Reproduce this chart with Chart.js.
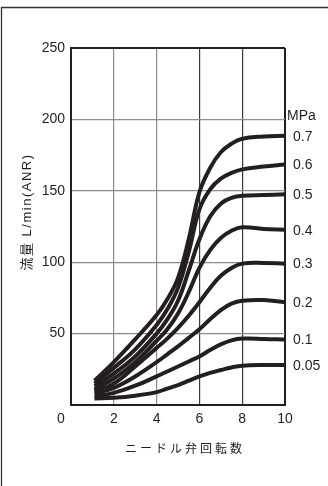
<!DOCTYPE html>
<html>
<head>
<meta charset="utf-8">
<script src="https://cdn.jsdelivr.net/npm/chart.js@4.4.1/dist/chart.umd.min.js"></script>
<style>
  html, body { margin: 0; padding: 0; background: #ffffff; }
  #wrap { position: relative; width: 328px; height: 486px; }
  canvas { display: block; }
</style>
</head>
<body>
<div id="wrap"><canvas id="c" width="328" height="486"></canvas></div>
<script>
// ---- data ----
const pressureLabels = ['0.7', '0.6', '0.5', '0.4', '0.3', '0.2', '0.1', '0.05'];
const turns = [1.1, 2, 3, 4, 4.5, 5, 5.5, 6, 6.5, 7, 7.5, 8, 9, 10];
const flow07  = [17, 30, 46, 63, 74, 89, 116, 149, 166, 177, 183, 186.5, 188, 188.5];
const flow06  = [15, 26, 39, 56, 67, 82, 107, 137, 151, 158.5, 162.5, 165, 167, 168.5];
const flow05  = [13, 22, 34, 50, 60, 73, 94, 116, 132, 141, 145, 146.5, 147, 147.5];
const flow04  = [11, 18.5, 30, 45, 53, 64, 79, 96, 108.5, 117, 122, 124.5, 123.3, 122.8];
const flow03  = [9.5, 15, 27, 40, 46.5, 54, 62.5, 72, 82, 90.5, 96, 99, 99.5, 99];
const flow02  = [8, 12, 20, 30, 35.5, 41, 47, 53, 60, 66.5, 71, 73, 73.5, 72];
const flow01  = [6, 8.5, 13.5, 20, 23.5, 27, 30.5, 34, 38.5, 42.5, 45.3, 46.5, 46.3, 45.8];
const flow005 = [4.5, 5, 6.5, 9, 11.5, 14, 17, 20, 22.5, 24.5, 26.3, 27.5, 28, 28];
const seriesValues = [flow07, flow06, flow05, flow04, flow03, flow02, flow01, flow005];
const xTicks = [0, 2, 4, 6, 8, 10];
const yTicks = [0, 50, 100, 150, 200, 250];
const unitLabel = 'MPa';
const xTitle = 'ニードル弁回転数';
const yTitle = '流量 L/min(ANR)';

// ---- styles ----
const INK = '#231f20';
const GRID_LIGHT = '#8c8c8c';
const GRID_DARK = '#3a3a3a';
const FONT = '"Liberation Sans", Arial, sans-serif';
const CJK = '"Noto Sans CJK JP", "Liberation Sans", sans-serif';

Chart.defaults.font.family = FONT;
Chart.defaults.color = INK;

const datasets = seriesValues.map((vals, i) => ({
  label: pressureLabels[i],
  data: turns.map((t, j) => ({ x: t, y: vals[j] })),
  borderColor: INK,
  backgroundColor: INK,
  borderWidth: 4,
  pointRadius: 0,
  fill: false,
  tension: 0.4,
  borderCapStyle: 'butt'
}));

const decorPlugin = {
  id: 'decor',
  beforeDraw(chart) {
    const ctx = chart.ctx;
    ctx.save();
    ctx.strokeStyle = '#333';
    ctx.lineWidth = 1.3;
    ctx.beginPath();
    ctx.moveTo(1.5, chart.height);
    ctx.lineTo(1.5, 7.5);
    ctx.lineTo(chart.width, 7.5);
    ctx.stroke();
    ctx.restore();
  },
  afterDraw(chart) {
    const ctx = chart.ctx;
    const xs = chart.scales.x, ys = chart.scales.y;
    const area = chart.chartArea;
    ctx.save();
    ctx.fillStyle = INK;
    // series labels at line ends
    ctx.font = '14px ' + FONT;
    ctx.textAlign = 'left';
    ctx.textBaseline = 'middle';
    chart.data.datasets.forEach((ds, i) => {
      const meta = chart.getDatasetMeta(i);
      const last = meta.data[meta.data.length - 1];
      ctx.fillText(ds.label, area.right + 8, last.y + 1);
    });
    // unit label
    ctx.fillText(unitLabel, area.right + 2, ys.getPixelForValue(200) - 3);
    // x tick "0" at the corner
    ctx.textAlign = 'center';
    ctx.fillText(String(xTicks[0]), xs.getPixelForValue(0) - 10, area.bottom + 14);
    // x title
    ctx.font = '12px ' + CJK;
    ctx.letterSpacing = '3px';
    ctx.fillText(xTitle, (area.left + area.right) / 2 + 7, 448);
    // y title
    ctx.translate(27, 212);
    ctx.rotate(-Math.PI / 2);
    ctx.font = '13px ' + FONT + ', "Noto Sans CJK JP"';
    ctx.letterSpacing = '1.5px';
    ctx.fillText(yTitle, 0, 0);
    ctx.restore();
  }
};

new Chart(document.getElementById('c'), {
  type: 'line',
  data: { datasets },
  options: {
    responsive: false,
    animation: false,
    devicePixelRatio: 1,
    layout: { padding: { left: 0, top: 48, right: 43, bottom: 0 } },
    plugins: { legend: { display: false }, tooltip: { enabled: false } },
    scales: {
      x: {
        type: 'linear',
        min: 0, max: 10,
        afterFit(scale) { scale.height = 81; },
        afterBuildTicks(scale) { scale.ticks = xTicks.map(v => ({ value: v })); },
        ticks: {
          font: { size: 14 },
          color: INK,
          padding: 6,
          callback: v => (v === 0 ? '' : String(v))
        },
        grid: {
          drawTicks: false,
          color: c => {
            const v = c.tick && c.tick.value;
            if (v === 10 || v === 0) return INK;
            if (v === 6 || v === 8) return GRID_DARK;
            return GRID_LIGHT;
          },
          lineWidth: c => {
            const v = c.tick && c.tick.value;
            return (v === 10 || v === 0) ? 2 : 1.2;
          }
        },
        border: { display: true, color: INK, width: 2 }
      },
      y: {
        type: 'linear',
        min: 0, max: 250,
        afterFit(scale) { scale.width = 71; },
        afterBuildTicks(scale) { scale.ticks = yTicks.map(v => ({ value: v })); },
        ticks: {
          font: { size: 14 },
          color: INK,
          padding: 6,
          callback: v => (v === 0 ? '' : String(v))
        },
        grid: {
          drawTicks: false,
          color: c => {
            const v = c.tick && c.tick.value;
            return (v === 250 || v === 0) ? INK : GRID_LIGHT;
          },
          lineWidth: c => {
            const v = c.tick && c.tick.value;
            return (v === 250 || v === 0) ? 2 : 1.2;
          }
        },
        border: { display: true, color: INK, width: 2 }
      }
    }
  },
  plugins: [decorPlugin]
});
</script>
</body>
</html>
